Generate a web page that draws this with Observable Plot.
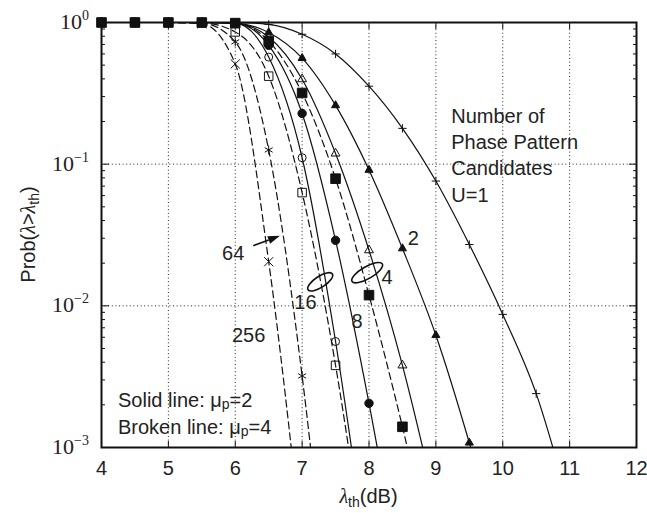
<!DOCTYPE html>
<html><head><meta charset="utf-8">
<script src="https://cdn.jsdelivr.net/npm/d3@7"></script>
<script src="https://cdn.jsdelivr.net/npm/@observablehq/plot@0.6"></script>
<style>
body{margin:0;background:#fff;}
#chart svg{display:block;}
</style></head><body><div id="chart"></div>
<script>
// λth in dB at which each curve was sampled
const dB = [4, 4.5, 5, 5.5, 6, 6.5, 7, 7.5, 8, 8.5, 9, 9.5, 10, 10.5, 11];
// Prob(λ > λth), solid lines (μp = 2)
const probU1Mu2  = [1, 1, 1, 1, 0.999, 0.97, 0.826, 0.60, 0.355, 0.179, 0.076, 0.0271, 0.0087, 0.0024, 0.00038];
const probU2Mu2  = [1, 1, 1, 1, 0.99, 0.85, 0.56, 0.26, 0.091, 0.0254, 0.0062, 0.00108, 0.00015];
const probU4Mu2  = [1, 1, 1, 1, 0.985, 0.79, 0.398, 0.119, 0.0247, 0.0038, 0.0004];
const probU8Mu2  = [1, 1, 1, 1, 0.99, 0.69, 0.228, 0.029, 0.00205, 0.0001];
const probU16Mu2 = [1, 1, 1, 1, 0.99, 0.57, 0.111, 0.0056, 0.00013];
// Prob(λ > λth), broken lines (μp = 4)
const probU4Mu4   = [1, 1, 1, 1, 0.99, 0.74, 0.318, 0.079, 0.0119, 0.0014, 0.00013];
const probU16Mu4  = [1, 1, 1, 0.995, 0.858, 0.418, 0.063, 0.0038, 0.0001];
const probU64Mu4  = [1, 1, 1, 0.99, 0.73, 0.126, 0.0032, 0.00002];
const probU256Mu4 = [1, 1, 1, 0.98, 0.51, 0.0205, 0.0002];
// axis ticks
const xTicks = [4, 5, 6, 7, 8, 9, 10, 11, 12];
const yExponents = [0, -1, -2, -3];
const uLabels = ["2", "4", "8", "16", "64", "256"];

const curves = [
  {values: probU1Mu2,   dashed: false, symbol: "plus",     filled: false, r: 2.8},
  {values: probU2Mu2,   dashed: false, symbol: "triangle", filled: true,  r: 3.0},
  {values: probU4Mu2,   dashed: false, symbol: "triangle", filled: false, r: 3.3},
  {values: probU8Mu2,   dashed: false, symbol: "circle",   filled: true,  r: 4.2},
  {values: probU16Mu2,  dashed: false, symbol: "circle",   filled: false, r: 4.0},
  {values: probU16Mu4,  dashed: true,  symbol: "square",   filled: false, r: 4.8},
  {values: probU64Mu4,  dashed: true,  symbol: "asterisk", filled: false, r: 4.3},
  {values: probU256Mu4, dashed: true,  symbol: "times",    filled: false, r: 4.2},
  {values: probU4Mu4,   dashed: true,  symbol: "square",   filled: true,  r: 5.4}
];
const rowsOf = (c, k) => c.values.map((p, i) => ({k, x: dB[i], p}));
const allRows = curves.map(rowsOf);

const font = "'Liberation Sans', Arial, sans-serif";
const serif = "'Liberation Serif', 'Times New Roman', serif";

const minor = [];
for (const e of [-3, -2, -1]) for (let m = 2; m <= 9; m++) minor.push(m * 10 ** e);
const major = yExponents.map(e => 10 ** e);

const marks = [
  Plot.gridX([5, 6, 7, 8, 9, 10, 11], {stroke: "#000", strokeOpacity: 0.85, strokeDasharray: "1,2.6"}),
  Plot.gridY([0.1, 0.01], {stroke: "#000", strokeOpacity: 0.85, strokeDasharray: "1,2.6"}),
];
curves.forEach((c, i) => {
  marks.push(Plot.line(allRows[i], {x: "x", y: "p", curve: "monotone-x", stroke: "#111", strokeWidth: 1.2,
    strokeDasharray: c.dashed ? "7,4" : null, clip: true}));
});
curves.forEach((c, i) => {
  marks.push(Plot.dot(allRows[i], {x: "x", y: "p", filter: d => d.p >= 0.001, symbol: c.symbol, r: c.r,
    fill: c.filled ? "#111" : "none", stroke: "#111", strokeWidth: 1}));
});
marks.push(
  Plot.axisX(xTicks, {anchor: "bottom", tickSize: -6, tickFormat: () => "", label: null}),
  Plot.axisX(xTicks, {anchor: "top", tickSize: -6, tickFormat: () => "", label: null}),
  Plot.axisY(major, {anchor: "left", tickSize: -8, tickFormat: () => "", label: null}),
  Plot.axisY(major, {anchor: "right", tickSize: -8, tickFormat: () => "", label: null}),
  Plot.axisY(minor, {anchor: "left", tickSize: -4, tickFormat: () => "", label: null}),
  Plot.axisY(minor, {anchor: "right", tickSize: -4, tickFormat: () => "", label: null}),
  Plot.frame({stroke: "#111", strokeWidth: 2}),
  Plot.text(xTicks, {x: d => d, y: 0.001, text: d => String(d), dy: 21, fontSize: 20, fontFamily: font, fill: "#222"}),
  Plot.text(["Number of\nPhase Pattern\nCandidates\nU=1"], {x: 9.23, y: 0.266, text: d => d, textAnchor: "start", lineAnchor: "top",
    lineHeight: 1.315, fontSize: 20, fontFamily: font, fill: "#222"}),
  Plot.text(uLabels, {
    x: d => ({"2": 8.664, "4": 8.27, "8": 7.82, "16": 7.05, "64": 5.97, "256": 6.2})[d],
    y: d => ({"2": 0.030, "4": 0.0158, "8": 0.0077, "16": 0.0105, "64": 0.0235, "256": 0.0062})[d],
    text: d => d, fontSize: 20, fontFamily: font, fill: "#222"})
);

const plot = Plot.plot({
  width: 647, height: 513,
  marginLeft: 101, marginRight: 11, marginTop: 22, marginBottom: 66,
  x: {domain: [4, 12], axis: null},
  y: {type: "log", domain: [0.001, 1], axis: null},
  style: {background: "#fff", color: "#111", fontFamily: font},
  marks
});
document.getElementById("chart").appendChild(plot);

const X = plot.scale("x"), Y = plot.scale("y");
const svg = d3.select(plot);
const [x0, x1] = X.range;
const [yb, yt] = Y.range;

// y tick labels 10^e
for (const e of yExponents) {
  const t = svg.append("text").attr("x", x0 - 12).attr("y", Y.apply(10 ** e) + 7)
    .attr("text-anchor", "end").attr("font-family", serif).attr("font-size", 22).attr("fill", "#222");
  t.append("tspan").text("10");
  t.append("tspan").attr("dy", -9).attr("font-size", 14).text(e === 0 ? "0" : "\u2212" + (-e));
}
// x label
{
  const t = svg.append("text").attr("x", (x0 + x1) / 2).attr("y", yb + 56).attr("text-anchor", "middle")
    .attr("font-family", font).attr("font-size", 20).attr("fill", "#222");
  t.append("tspan").attr("font-family", serif).attr("font-style", "italic").text("\u03bb");
  t.append("tspan").attr("font-size", 14).attr("dy", 4).text("th");
  t.append("tspan").attr("dy", -4).text("(dB)");
}
// y label
{
  const t = svg.append("text").attr("transform", `translate(35,${(yb + yt) / 2}) rotate(-90)`).attr("text-anchor", "middle")
    .attr("font-family", font).attr("font-size", 20).attr("fill", "#222");
  t.append("tspan").text("Prob(");
  t.append("tspan").attr("font-family", serif).attr("font-style", "italic").text("\u03bb");
  t.append("tspan").text(">");
  t.append("tspan").attr("font-family", serif).attr("font-style", "italic").text("\u03bb");
  t.append("tspan").attr("font-size", 14).attr("dy", 4).text("th");
  t.append("tspan").attr("dy", -4).text(")");
}
// line style legend
[["Solid line: ", "2", 0.00213], ["Broken line: ", "4", 0.00139]].forEach(([a, b, p]) => {
  const t = svg.append("text").attr("x", X.apply(4.254)).attr("y", Y.apply(p) + 7).attr("text-anchor", "start")
    .attr("font-family", font).attr("font-size", 20).attr("fill", "#222");
  t.append("tspan").text(a + "\u03bc");
  t.append("tspan").attr("font-size", 14).attr("dy", 2).text("p");
  t.append("tspan").attr("dy", -2).text("=" + b);
});
// ellipses grouping pairs of curves
[[7.98, 0.017, 17.5, 6, -30], [7.278, 0.01465, 14.5, 5.5, -33]].forEach(([ex, ey, rx, ry, a]) => {
  svg.append("ellipse").attr("cx", 0).attr("cy", 0).attr("rx", rx).attr("ry", ry)
    .attr("transform", `translate(${X.apply(ex)},${Y.apply(ey)}) rotate(${a})`)
    .attr("fill", "none").attr("stroke", "#111").attr("stroke-width", 1.6);
});
// arrow for 64
{
  const ax = X.apply(6.277), ay = Y.apply(0.02637), bx = X.apply(6.676), by = Y.apply(0.031);
  const dx = bx - ax, dy = by - ay, L = Math.hypot(dx, dy), ux = dx / L, uy = dy / L;
  const hl = 12, hw = 4;
  const cx = bx - hl * ux, cy = by - hl * uy;
  svg.append("line").attr("x1", ax).attr("y1", ay).attr("x2", cx).attr("y2", cy).attr("stroke", "#111").attr("stroke-width", 1.6);
  svg.append("path").attr("d", `M${bx},${by}L${cx - hw * uy},${cy + hw * ux}L${cx + hw * uy},${cy - hw * ux}Z`).attr("fill", "#111");
}
</script></body></html>
